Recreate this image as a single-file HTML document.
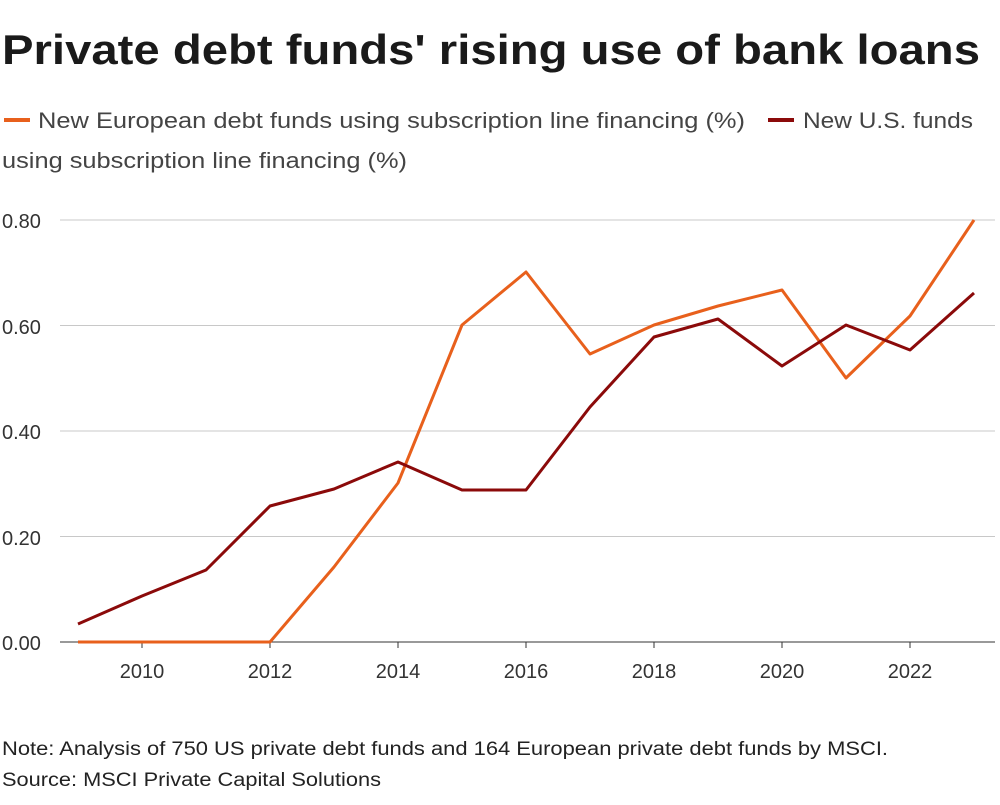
<!DOCTYPE html>
<html><head><meta charset="utf-8"><style>
body{margin:0;background:#fff;width:1000px;height:800px;overflow:hidden;font-family:"Liberation Sans",sans-serif;}
</style></head><body>
<svg width="1000" height="800" xmlns="http://www.w3.org/2000/svg" font-family="Liberation Sans, sans-serif">
<text x="2" y="64" font-size="42" font-weight="bold" fill="#1a1a1a" textLength="978" lengthAdjust="spacingAndGlyphs">Private debt funds' rising use of bank loans</text>
<line x1="4" y1="120" x2="30" y2="120" stroke="#e8601c" stroke-width="4"/>
<text x="38" y="128" font-size="22" fill="#444" textLength="707" lengthAdjust="spacingAndGlyphs">New European debt funds using subscription line financing (%)</text>
<line x1="768" y1="120" x2="794" y2="120" stroke="#8b0a0a" stroke-width="4"/>
<text x="803" y="128" font-size="22" fill="#444" textLength="170" lengthAdjust="spacingAndGlyphs">New U.S. funds</text>
<text x="2" y="168" font-size="22" fill="#444" textLength="405" lengthAdjust="spacingAndGlyphs">using subscription line financing (%)</text>
<g stroke="#c8c8c8" stroke-width="1">
<line x1="60" y1="220" x2="995" y2="220"/>
<line x1="60" y1="325.5" x2="995" y2="325.5"/>
<line x1="60" y1="431" x2="995" y2="431"/>
<line x1="60" y1="536.5" x2="995" y2="536.5"/>
</g>
<line x1="60" y1="642" x2="995" y2="642" stroke="#333" stroke-width="1"/>
<g font-size="20" fill="#333">
<text x="2" y="228">0.80</text><text x="2" y="334">0.60</text><text x="2" y="439">0.40</text><text x="2" y="545">0.20</text><text x="2" y="650">0.00</text>
</g>
<g stroke="#333"><line x1="142" y1="642" x2="142" y2="648"/><line x1="270" y1="642" x2="270" y2="648"/><line x1="398" y1="642" x2="398" y2="648"/><line x1="526" y1="642" x2="526" y2="648"/><line x1="654" y1="642" x2="654" y2="648"/><line x1="782" y1="642" x2="782" y2="648"/><line x1="910" y1="642" x2="910" y2="648"/></g>
<g font-size="20" fill="#333" text-anchor="middle">
<text x="142" y="678">2010</text><text x="270" y="678">2012</text><text x="398" y="678">2014</text><text x="526" y="678">2016</text><text x="654" y="678">2018</text><text x="782" y="678">2020</text><text x="910" y="678">2022</text>
</g>
<polyline fill="none" stroke="#e8601c" stroke-width="3" stroke-linejoin="round" points="78,642 142,642 206,642 270,642 334,567 398,483 462,325 526,272 590,354 654,325 718,306 782,290 846,378 910,316 974,220"/>
<polyline fill="none" stroke="#8b0a0a" stroke-width="3" stroke-linejoin="round" points="78,624 142,596 206,570 270,506 334,489 398,462 462,490 526,490 590,407 654,337 718,319 782,366 846,325 910,350 974,293"/>
<text x="2" y="755" font-size="19" fill="#222" textLength="886" lengthAdjust="spacingAndGlyphs">Note: Analysis of 750 US private debt funds and 164 European private debt funds by MSCI.</text>
<text x="2" y="786" font-size="19" fill="#222" textLength="379" lengthAdjust="spacingAndGlyphs">Source: MSCI Private Capital Solutions</text>
</svg>
</body></html>
